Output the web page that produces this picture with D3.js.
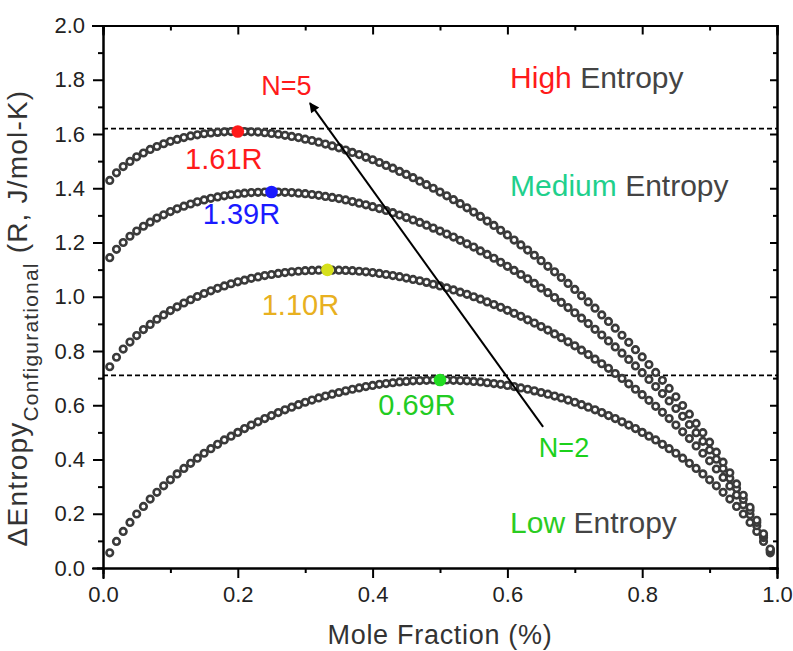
<!DOCTYPE html>
<html>
<head>
<meta charset="utf-8">
<script src="https://cdn.jsdelivr.net/npm/d3@7"></script>
<style>
  body { margin: 0; background: #fff; }
  svg { font-family: "Liberation Sans", Arial, sans-serif; }
  .axis path, .axis line { stroke: #000; stroke-width: 2; }
  .axis text { font-size: 22px; fill: #222; }
</style>
</head>
<body>
<div id="chart"></div>
<script>
// Configurational entropy vs mole fraction, N = 2..5

let molFraction = [
  0.01,0.02,0.03,0.04,0.05,0.06,0.07,0.08,0.09,0.10,
  0.11,0.12,0.13,0.14,0.15,0.16,0.17,0.18,0.19,0.20,
  0.21,0.22,0.23,0.24,0.25,0.26,0.27,0.28,0.29,0.30,
  0.31,0.32,0.33,0.34,0.35,0.36,0.37,0.38,0.39,0.40,
  0.41,0.42,0.43,0.44,0.45,0.46,0.47,0.48,0.49,0.50,
  0.51,0.52,0.53,0.54,0.55,0.56,0.57,0.58,0.59,0.60,
  0.61,0.62,0.63,0.64,0.65,0.66,0.67,0.68,0.69,0.70,
  0.71,0.72,0.73,0.74,0.75,0.76,0.77,0.78,0.79,0.80,
  0.81,0.82,0.83,0.84,0.85,0.86,0.87,0.88,0.89,0.90,
  0.91,0.92,0.93,0.94,0.95,0.96,0.97,0.98,0.99]

let entropyN2 = [
  0.056,0.098,0.135,0.168,0.199,0.227,0.254,0.279,0.303,0.325,
  0.347,0.367,0.386,0.405,0.423,0.440,0.456,0.472,0.486,0.500,
  0.514,0.527,0.539,0.551,0.562,0.573,0.583,0.593,0.602,0.611,
  0.619,0.627,0.634,0.641,0.647,0.653,0.659,0.664,0.669,0.673,
  0.677,0.680,0.683,0.686,0.688,0.690,0.691,0.692,0.693,0.693,
  0.693,0.692,0.691,0.690,0.688,0.686,0.683,0.680,0.677,0.673,
  0.669,0.664,0.659,0.653,0.647,0.641,0.634,0.627,0.619,0.611,
  0.602,0.593,0.583,0.573,0.562,0.551,0.539,0.527,0.514,0.500,
  0.486,0.472,0.456,0.440,0.423,0.405,0.386,0.367,0.347,0.325,
  0.303,0.279,0.254,0.227,0.199,0.168,0.135,0.098,0.056]

let entropyN3 = [
  0.742,0.777,0.807,0.833,0.857,0.879,0.898,0.917,0.933,0.949,
  0.963,0.977,0.989,1.001,1.012,1.022,1.031,1.040,1.048,1.055,
  1.061,1.068,1.073,1.078,1.082,1.086,1.089,1.092,1.094,1.096,
  1.097,1.098,1.099,1.098,1.098,1.097,1.096,1.094,1.092,1.089,
  1.086,1.082,1.078,1.074,1.069,1.064,1.059,1.053,1.046,1.040,
  1.033,1.025,1.017,1.009,1.000,0.991,0.981,0.971,0.961,0.950,
  0.939,0.928,0.915,0.903,0.890,0.877,0.863,0.849,0.834,0.819,
  0.803,0.787,0.770,0.753,0.736,0.717,0.699,0.679,0.659,0.639,
  0.618,0.596,0.574,0.551,0.527,0.502,0.477,0.450,0.423,0.395,
  0.365,0.334,0.302,0.269,0.233,0.196,0.156,0.112,0.063]

let entropyN4 = [
  1.144,1.175,1.200,1.223,1.242,1.260,1.275,1.290,1.302,1.314,
  1.324,1.334,1.342,1.350,1.357,1.363,1.368,1.372,1.376,1.379,
  1.382,1.384,1.385,1.386,1.386,1.386,1.385,1.384,1.382,1.380,
  1.377,1.374,1.370,1.366,1.362,1.357,1.351,1.345,1.339,1.332,
  1.325,1.318,1.310,1.301,1.292,1.283,1.274,1.264,1.253,1.242,
  1.231,1.220,1.208,1.195,1.183,1.169,1.156,1.142,1.127,1.112,
  1.097,1.082,1.066,1.049,1.032,1.015,0.997,0.979,0.960,0.941,
  0.921,0.901,0.880,0.859,0.837,0.815,0.792,0.769,0.745,0.720,
  0.695,0.669,0.643,0.616,0.588,0.559,0.529,0.499,0.467,0.435,
  0.401,0.367,0.331,0.293,0.253,0.212,0.168,0.120,0.067]

let entropyN5 = [
  1.429,1.457,1.480,1.499,1.516,1.530,1.543,1.554,1.564,1.573,
  1.580,1.587,1.593,1.597,1.601,1.604,1.606,1.608,1.609,1.609,
  1.609,1.608,1.607,1.605,1.602,1.599,1.595,1.591,1.587,1.581,
  1.576,1.570,1.563,1.556,1.549,1.541,1.532,1.524,1.514,1.505,
  1.495,1.484,1.474,1.462,1.451,1.439,1.426,1.413,1.400,1.386,
  1.372,1.358,1.343,1.328,1.312,1.296,1.279,1.263,1.245,1.228,
  1.209,1.191,1.172,1.153,1.133,1.112,1.092,1.071,1.049,1.027,
  1.004,0.981,0.958,0.933,0.909,0.884,0.858,0.832,0.805,0.778,
  0.750,0.721,0.692,0.662,0.631,0.599,0.567,0.533,0.499,0.464,
  0.427,0.390,0.351,0.310,0.268,0.224,0.176,0.126,0.070]

// maxima (x = 1/N)
let peakX = [0.2, 0.25, 0.333, 0.5]
let peakY = [1.609, 1.386, 1.099, 0.693]
let peakLabels = ["1.61R", "1.39R", "1.10R", "0.69R"]
let peakColors = ["#ff1a1a", "#1a1aff", "#d6e01c", "#22dd22"]
let peakTextColors = ["#ff1a1a", "#1a1aff", "#e8b020", "#22cc22"]

// dashed reference levels
let refLevels = [1.62, 0.71]

let xTicks = [0, 0.2, 0.4, 0.6, 0.8, 1.0],
    xMinor = [0.1, 0.3, 0.5, 0.7, 0.9],
    yTicks = [0, 0.2, 0.4, 0.6, 0.8, 1.0, 1.2, 1.4, 1.6, 1.8, 2.0],
    yMinor = [0.1, 0.3, 0.5, 0.7, 0.9, 1.1, 1.3, 1.5, 1.7, 1.9]

let regionWords = ["High", "Medium", "Low"]
let regionY = [1.77, 1.37, 0.13]
let regionColors = ["#ff1a1a", "#1fd08c", "#2bcc22"]

let width = 793, height = 651
let plotL = 103, plotR = 777, plotT = 25.5, plotB = 568

let svg = d3.select("#chart").append("svg")
    .attr("width", width)
    .attr("height", height)

let x = d3.scaleLinear().domain([0, 1]).range([plotL, plotR])
let y = d3.scaleLinear().domain([0, 2]).range([plotB, plotT])
let fmt = d3.format(".1f")

// axes
let axes = svg.append("g").attr("class", "axis")
axes.append("g").attr("transform", `translate(0,${plotB})`)
    .call(d3.axisBottom(x).tickValues(xTicks).tickFormat(fmt).tickSize(10).tickPadding(8))
axes.append("g").attr("transform", `translate(0,${plotB})`)
    .call(d3.axisBottom(x).tickValues(xMinor).tickFormat("").tickSize(5))
axes.append("g").attr("transform", `translate(${plotL},0)`)
    .call(d3.axisLeft(y).tickValues(yTicks).tickFormat(fmt).tickSize(10).tickPadding(8))
axes.append("g").attr("transform", `translate(${plotL},0)`)
    .call(d3.axisLeft(y).tickValues(yMinor).tickFormat("").tickSize(5))
// top & right: ticks inward, no labels
axes.append("g").attr("transform", `translate(0,${plotT})`)
    .call(d3.axisBottom(x).tickValues(xTicks).tickFormat("").tickSize(9))
axes.append("g").attr("transform", `translate(0,${plotT})`)
    .call(d3.axisBottom(x).tickValues(xMinor).tickFormat("").tickSize(5))
axes.append("g").attr("transform", `translate(${plotR},0)`)
    .call(d3.axisLeft(y).tickValues(yTicks).tickFormat("").tickSize(7))
axes.append("g").attr("transform", `translate(${plotR},0)`)
    .call(d3.axisLeft(y).tickValues(yMinor).tickFormat("").tickSize(4))
axes.selectAll(".domain").attr("stroke-linecap", "square")

// dashed lines
svg.selectAll(".ref").data(refLevels).enter().append("line")
    .attr("class", "ref")
    .attr("x1", x(0)).attr("x2", x(1))
    .attr("y1", d => y(d)).attr("y2", d => y(d))
    .attr("stroke", "#000").attr("stroke-width", 1.8)
    .attr("stroke-dasharray", "5,3")

// curves
let series = [entropyN2, entropyN3, entropyN4, entropyN5]
series.forEach(function (vals) {
  svg.append("g").selectAll("circle").data(vals).enter().append("circle")
      .attr("cx", (d, i) => x(molFraction[i]))
      .attr("cy", d => y(d))
      .attr("r", 3.3)
      .attr("fill", "#fff")
      .attr("stroke", "#3a3a3a")
      .attr("stroke-width", 2.6)
})

// peak markers
svg.selectAll(".peak").data(peakX).enter().append("circle")
    .attr("class", "peak")
    .attr("cx", d => x(d))
    .attr("cy", (d, i) => y(peakY[i]))
    .attr("r", 6.3)
    .attr("fill", (d, i) => peakColors[i])

let labelDx = [-14, -30, -27, -23],
    labelDy = [37, 32, 45, 35]
svg.selectAll(".peak_label").data(peakLabels).enter().append("text")
    .attr("class", "peak_label")
    .attr("x", (d, i) => x(peakX[i]) + labelDx[i])
    .attr("y", (d, i) => y(peakY[i]) + labelDy[i])
    .attr("text-anchor", "middle")
    .attr("font-size", "29px")
    .attr("fill", (d, i) => peakTextColors[i])
    .text(d => d)

// arrow N=2 -> N=5
let defs = svg.append("defs")
defs.append("marker")
    .attr("id", "head")
    .attr("viewBox", "0 0 10 10")
    .attr("refX", 9).attr("refY", 5)
    .attr("markerWidth", 15).attr("markerHeight", 10)
    .attr("markerUnits", "userSpaceOnUse")
    .attr("orient", "auto")
  .append("path").attr("d", "M0,0L10,5L0,10Z").attr("fill", "#000")

svg.append("line")
    .attr("x1", x(0.653)).attr("y1", y(0.52))
    .attr("x2", x(0.307)).attr("y2", y(1.714))
    .attr("stroke", "#000").attr("stroke-width", 2)
    .attr("marker-end", "url(#head)")

svg.append("text")
    .attr("x", x(0.272)).attr("y", y(1.744))
    .attr("text-anchor", "middle").attr("font-size", "27px")
    .attr("fill", "#ff1a1a").text("N=5")
svg.append("text")
    .attr("x", x(0.684)).attr("y", y(0.41))
    .attr("text-anchor", "middle").attr("font-size", "27px")
    .attr("fill", "#1bd11b").text("N=2")

// region labels
let regions = svg.selectAll(".region").data(regionWords).enter().append("text")
    .attr("class", "region")
    .attr("x", x(0.604))
    .attr("y", (d, i) => y(regionY[i]))
    .attr("font-size", "30px")
regions.append("tspan").attr("fill", (d, i) => regionColors[i]).text(d => d)
regions.append("tspan").attr("fill", "#444").text(" Entropy")

// axis titles
svg.append("text")
    .attr("x", (plotL + plotR) / 2).attr("y", 644)
    .attr("text-anchor", "middle").attr("font-size", "27px")
    .attr("letter-spacing", "0.7px")
    .attr("fill", "#333").text("Mole Fraction (%)")

let yTitle = svg.append("text")
    .attr("transform", `translate(27,318) rotate(-90)`)
    .attr("text-anchor", "middle").attr("font-size", "28px")
    .attr("letter-spacing", "1.2px")
    .attr("fill", "#333")
yTitle.append("tspan").text("\u0394Entropy")
yTitle.append("tspan").attr("font-size", "21px").attr("dy", 11).text("Configurational")
yTitle.append("tspan").attr("dy", -11).text(" (R, J/mol-K)")
</script>
</body>
</html>
